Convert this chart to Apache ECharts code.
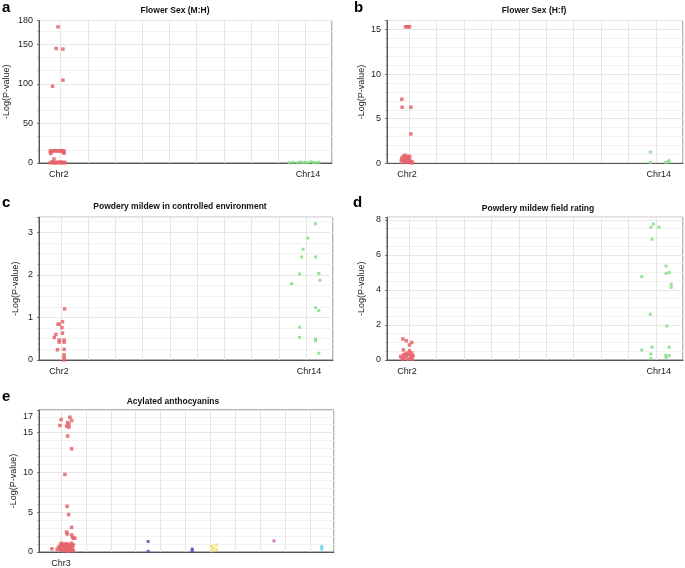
<!DOCTYPE html>
<html>
<head>
<meta charset="utf-8">
<script src="https://cdn.jsdelivr.net/npm/echarts@6/dist/echarts.min.js"></script>
<style>html,body{margin:0;padding:0;background:#fff;}#c{width:685px;height:568px;}</style>
</head>
<body>
<div id="c"></div>
<script>
// ---------- data ----------
var titles = ['Flower Sex (M:H)', 'Flower Sex (H:f)', 'Powdery mildew in controlled environment', 'Powdery mildew field rating', 'Acylated anthocyanins'];
var letters = ['a', 'b', 'c', 'd', 'e'];
var chrNamesAD = ['Chr2', 'Chr14'];
var chrPosAD = [0.93, 10.1];
var chrNamesE = ['Chr3'];
var chrPosE = [1.0];
var yLabelsA = [0, 50, 100, 150, 180];
var yLabelsB = [0, 5, 10, 15];
var yLabelsC = [0, 1, 2, 3];
var yLabelsD = [0, 2, 4, 6, 8];
var yLabelsE = [0, 5, 10, 15, 17];

var aChr2 = [[0.90,172],[0.83,144.7],[1.08,143.9],[1.08,104.7],[0.70,97],
  [0.62,15.2],[0.67,15.5],[0.72,15.3],[0.77,15.6],[0.82,15.4],[0.88,15.2],[0.93,15.5],[0.98,15.3],[1.03,15.6],[1.08,15.4],[1.12,15.1],
  [0.62,13.5],[0.63,12.2],[1.10,13.6],[1.12,12.4],[0.65,14.2],[1.08,14.4],[0.75,5],
  [0.62,0.5],[0.68,0.8],[0.73,0.3],[0.78,0.6],[0.83,0.2],[0.88,0.9],[0.93,0.4],[0.98,0.7],[1.03,0.3],[1.08,0.5],[1.12,0.8],[1.16,0.4],[0.70,1.4],[1.00,1.2]];
var aChr14 = [[9.4,0.3],[9.55,0.8],[9.7,0.2],[9.8,1.2],[9.9,0.5],[10.0,0.9],[10.1,0.3],[10.2,1.5],[10.3,0.6],[10.4,0.2],[10.5,1.0]];

var bChr2 = [[0.87,15.3],[0.92,15.3],[0.97,15.3],[1.02,15.3],[0.74,7.18],[0.75,6.28],[1.07,6.28],[1.07,3.29],
  [0.72,0.3],[0.74,0.6],[0.78,0.1],[0.80,0.8],[0.83,0.45],[0.86,0.9],[0.88,0.2],[0.90,0.65],[0.93,0.35],[0.95,0.8],[0.98,0.1],[1.00,0.55],[1.03,0.75],[1.05,0.25],[1.08,0.15],[1.10,0.05],[1.13,0.1],[0.76,0.4],[0.97,0.6]];
var bChr14 = [[9.79,1.27],[9.79,0.1],[10.36,0.1],[10.48,0.3],[10.42,0.15]];

var cChr2 = [[1.14,1.2],[1.06,0.9],[0.94,0.84],[0.90,0.84],[1.04,0.76],[1.06,0.63],[0.82,0.6],[0.76,0.53],[0.94,0.47],[0.94,0.42],[1.12,0.47],[1.12,0.42],[0.88,0.24],[1.12,0.25],[1.12,0.12],[1.12,0.06],[1.12,0.0]];
var cChr14 = [[10.34,3.2],[10.06,2.86],[9.88,2.6],[9.83,2.42],[10.34,2.42],[9.75,2.02],[10.46,2.03],[10.5,1.87],[9.46,1.79],[10.34,1.23],[10.46,1.16],[9.75,0.77],[9.75,0.53],[10.34,0.49],[10.34,0.45],[10.46,0.16]];

var dChr2 = [[0.78,1.2],[0.90,1.1],[1.10,1.0],[1.02,0.86],[0.80,0.57],[1.02,0.53],[0.95,0.4],[1.10,0.4],
  [0.70,0.2],[0.75,0.1],[0.80,0.3],[0.85,0.15],[0.90,0.25],[0.95,0.05],[1.00,0.3],[1.05,0.1],[1.10,0.2],[1.15,0.25],[0.78,0.05],[0.88,0.35],[1.12,0.05]];
var dChr14 = [[9.9,7.77],[9.81,7.58],[10.1,7.58],[9.85,6.9],[10.36,5.37],[10.36,4.95],[10.48,4.99],[9.48,4.76],[10.55,4.33],[10.55,4.15],[9.79,2.61],[10.39,1.94],[9.48,0.57],[9.85,0.73],[10.48,0.73],[9.81,0.34],[10.36,0.28],[10.36,0.15],[9.81,0.08],[10.48,0.25]];

var eChr3 = [[1.01,16.64],[1.36,16.94],[1.43,16.52],[1.27,16.27],[1.32,16.07],[0.96,15.9],[1.23,15.82],[1.32,15.7],[1.27,14.58],[1.43,12.97],[1.16,9.75],[1.25,5.74],[1.31,4.71],[1.43,3.1],[1.23,2.5],[1.25,2.27],[1.43,2.15],[1.47,1.86],[1.50,1.73],[1.56,1.73],[0.64,0.4],[0.96,0.6],[0.96,0.35],
  [0.98,0.9],[0.98,0.5],[1.02,1.1],[1.02,0.2],[1.06,0.8],[1.06,0.4],[1.10,1.0],[1.10,0.15],[1.14,0.7],[1.14,0.3],[1.18,0.9],[1.18,0.5],[1.22,1.05],[1.22,0.2],[1.26,0.75],[1.26,0.35],[1.30,0.95],[1.30,0.1],[1.34,0.6],[1.34,0.25],[1.38,0.85],[1.38,0.45],[1.42,1.1],[1.42,0.2],[1.46,0.7],[1.46,0.35],[1.50,0.9],[1.50,0.15],[0.90,0.6],[0.85,0.3]];
var eBlue = [[4.5,1.32],[4.5,0.08],[6.27,0.37],[6.27,0.16]];
var eYellow = [[7.05,0.7],[7.25,0.9],[7.05,0.16],[7.25,0.29],[7.12,0.5]];
var ePink = [[9.55,1.4]];
var eCyan = [[11.47,0.7],[11.47,0.37]];

// ---------- layout ----------
var FONT = '"Liberation Sans", Arial, sans-serif';
var grids = [
  {left: 39, top: 20.5, width: 293, height: 142.5},
  {left: 387, top: 20.5, width: 296, height: 142.8},
  {left: 39, top: 217.3, width: 294, height: 142.7},
  {left: 387, top: 217.3, width: 296, height: 142.7},
  {left: 39, top: 410, width: 295, height: 144}
];
var yCfg = [
  {max: 180, interval: 50, minor: 3, labels: yLabelsA, gap: 28},
  {max: 16, interval: 5, minor: 5, labels: yLabelsB, gap: 21},
  {max: 3.35, interval: 1, minor: 4, labels: yLabelsC, gap: 19},
  {max: 8.15, interval: 2, minor: 4, labels: yLabelsD, gap: 21},
  {max: 17.85, interval: 5, minor: 5, labels: yLabelsE, gap: 21}
];
var titlePos = [
  {x: 175, y: 6}, {x: 534, y: 6}, {x: 180, y: 202.5}, {x: 538, y: 204}, {x: 173, y: 397}
];
var letterPos = [
  {x: 2, y: 0}, {x: 354, y: 0}, {x: 2, y: 195}, {x: 353, y: 195}, {x: 2, y: 389}
];

function xAxisFor(i) {
  var isE = i === 4;
  var names = isE ? chrNamesE : chrNamesAD;
  var pos = isE ? chrPosE : chrPosAD;
  return {
    type: 'value', gridIndex: i,
    min: isE ? 0.12 : 0.2, max: isE ? 11.96 : 10.98,
    splitNumber: 10, minInterval: 1, maxInterval: 1,
    axisLine: {show: true, lineStyle: {color: '#555', width: 1}},
    axisTick: {show: false},
    splitLine: {show: true, lineStyle: {color: '#e6e6e6', width: 1}},
    axisLabel: {
      customValues: pos, margin: 7, fontSize: 9, color: '#222', fontFamily: FONT,
      formatter: function (v) {
        for (var k = 0; k < pos.length; k++) { if (Math.abs(pos[k] - v) < 1e-6) return names[k]; }
        return '';
      }
    }
  };
}
function yAxisFor(i) {
  var c = yCfg[i];
  return {
    type: 'value', gridIndex: i, min: 0, max: c.max, interval: c.interval,
    name: '-Log(P-value)', nameLocation: 'middle', nameGap: c.gap, nameRotate: 90,
    nameTextStyle: {fontSize: 9, color: '#222', fontFamily: FONT},
    axisLine: {show: true, lineStyle: {color: '#555', width: 1}},
    axisTick: {show: true, length: 2, lineStyle: {color: '#777'}},
    minorTick: {show: true, splitNumber: c.minor, length: 1.5, lineStyle: {color: '#999'}},
    splitLine: {show: true, lineStyle: {color: '#e8e8e8', width: 1}},
    minorSplitLine: {show: true, lineStyle: {color: '#f3f3f3', width: 1}},
    axisLabel: {customValues: c.labels, margin: 6, fontSize: 9, color: '#222', fontFamily: FONT}
  };
}
function sc(i, data, color, size) {
  return {
    type: 'scatter', xAxisIndex: i, yAxisIndex: i, data: data,
    symbol: 'rect', symbolSize: size, silent: true, animation: false,
    itemStyle: {color: color, opacity: 0.85}
  };
}

var RED = '#e8636b', GREEN = '#85dd85';
var option = {
  backgroundColor: '#fff',
  animation: false,
  title: [],
  grid: grids.map(function (g) { return Object.assign({show: true, borderColor: '#666', borderWidth: 1, backgroundColor: '#fff'}, g); }),
  xAxis: [0,1,2,3,4].map(xAxisFor),
  yAxis: [0,1,2,3,4].map(yAxisFor),
  series: [
    sc(0, aChr2, RED, 3.5), sc(0, aChr14, GREEN, 3),
    sc(1, bChr2, RED, 3.5), sc(1, bChr14, GREEN, 3),
    sc(2, cChr2, RED, 3.5), sc(2, cChr14, GREEN, 3),
    sc(3, dChr2, RED, 3.5), sc(3, dChr14, GREEN, 3),
    sc(4, eChr3, RED, 3.5), sc(4, eBlue, '#5050c0', 3), sc(4, eYellow, '#efe060', 3), sc(4, ePink, '#d060c0', 3), sc(4, eCyan, '#60d4e6', 3)
  ]
};
for (var i = 0; i < 5; i++) {
  option.title.push({
    text: titles[i], left: titlePos[i].x, top: titlePos[i].y, textAlign: 'center', padding: 0,
    textStyle: {fontSize: 8.5, fontWeight: 'bold', color: '#111', fontFamily: FONT}
  });
  option.title.push({
    text: letters[i], left: letterPos[i].x, top: letterPos[i].y, padding: 0,
    textStyle: {fontSize: 15, fontWeight: 'bold', color: '#000', fontFamily: FONT}
  });
}
var chart = echarts.init(document.getElementById('c'), null, {renderer: 'canvas'});
chart.setOption(option);
</script>
</body>
</html>
